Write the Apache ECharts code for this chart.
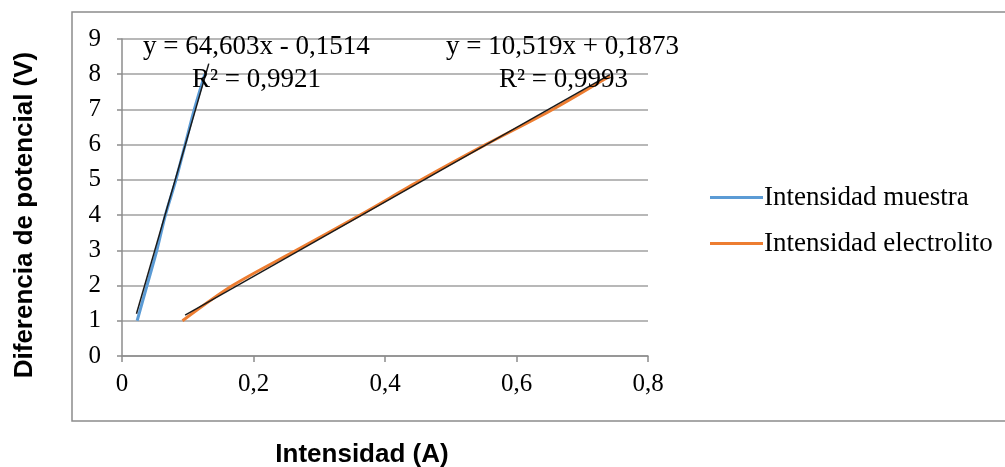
<!DOCTYPE html>
<html>
<head>
<meta charset="utf-8">
<script src="https://cdn.jsdelivr.net/npm/echarts@6/dist/echarts.min.js"></script>
<style>
html,body{margin:0;padding:0;background:#fff;}
#chart{width:1005px;height:467px;}
</style>
</head>
<body>
<div id="chart"></div>
<script>
// Data
const seriesNames = ['Intensidad muestra', 'Intensidad electrolito'];
const muestraX = [0.023, 0.038, 0.053, 0.066, 0.082, 0.096, 0.110, 0.126];
const muestraY = [1.0, 2.0, 3.0, 4.0, 5.0, 6.0, 7.0, 8.0];
const electrolitoX = [0.092, 0.168, 0.265, 0.362, 0.455, 0.553, 0.655, 0.742];
const electrolitoY = [1.0, 2.0, 3.0, 4.0, 5.0, 6.0, 7.0, 7.95];
// Trendline end points (as drawn)
const trendMuestra = [[0.022, 1.2], [0.132, 8.3]];
const trendElectrolito = [[0.096, 1.16], [0.742, 7.99]];
const eqMuestra = ['y = 64,603x - 0,1514', 'R² = 0,9921'];
const eqElectrolito = ['y = 10,519x + 0,1873', 'R² = 0,9993'];
const xTitle = 'Intensidad (A)';
const yTitle = 'Diferencia de potencial (V)';

const zip = (xs, ys) => xs.map((x, i) => [x, ys[i]]);
const serif = '"Liberation Serif", "DejaVu Serif", serif';
const sans = '"Liberation Sans", Arial, sans-serif';

const chart = echarts.init(document.getElementById('chart'), null, {renderer: 'canvas'});
chart.setOption({
  animation: false,
  backgroundColor: '#fff',
  grid: {left: 122, right: 357, top: 39, bottom: 111, containLabel: false},
  xAxis: {
    type: 'value', min: 0, max: 0.8, interval: 0.2,
    axisLine: {show: true, lineStyle: {color: '#8c8c8c', width: 1.5}},
    axisTick: {show: true, length: 6, lineStyle: {color: '#8c8c8c', width: 1.5}},
    splitLine: {show: false},
    axisLabel: {
      color: '#000', fontFamily: serif, fontSize: 25, margin: 16,
      formatter: v => String(Math.round(v * 10) / 10).replace('.', ',')
    }
  },
  yAxis: {
    type: 'value', min: 0, max: 9, interval: 1,
    axisLine: {show: true, lineStyle: {color: '#8c8c8c', width: 1.5}},
    axisTick: {show: true, length: 5, lineStyle: {color: '#8c8c8c', width: 1.5}},
    splitLine: {show: true, lineStyle: {color: '#a0a0a0', width: 1.5}},
    axisLabel: {color: '#000', fontFamily: serif, fontSize: 25, margin: 21}
  },
  legend: {
    orient: 'vertical', left: 705, top: 179, itemGap: 19,
    itemWidth: 53, itemHeight: 3, icon: 'rect',
    data: seriesNames,
    textStyle: {fontFamily: serif, fontSize: 27, lineHeight: 27, color: '#000', padding: [0, 0, 0, -4]}
  },
  series: [
    {
      name: seriesNames[0], type: 'line', data: zip(muestraX, muestraY),
      showSymbol: false, smooth: 0.3, lineStyle: {color: '#5B9BD5', width: 3},
      itemStyle: {color: '#5B9BD5'}, z: 2
    },
    {
      name: seriesNames[1], type: 'line', data: zip(electrolitoX, electrolitoY),
      showSymbol: false, smooth: 0.3, lineStyle: {color: '#ED7D31', width: 3},
      itemStyle: {color: '#ED7D31'}, z: 2
    },
    {
      name: 'trend1', type: 'line', data: trendMuestra, showSymbol: false,
      lineStyle: {color: '#1a1a1a', width: 1.5}, z: 3, silent: true
    },
    {
      name: 'trend2', type: 'line', data: trendElectrolito, showSymbol: false,
      lineStyle: {color: '#1a1a1a', width: 1.5}, z: 3, silent: true
    }
  ],
  graphic: [
    {type: 'rect', shape: {x: 72, y: 12, width: 960, height: 409},
     style: {fill: 'none', stroke: '#8c8c8c', lineWidth: 1.5}, z: -1, silent: true},
    {type: 'text', x: 143, y: 47, style: {text: eqMuestra[0], font: '27px ' + serif, fill: '#000', verticalAlign: 'middle'}, z: 10},
    {type: 'text', x: 192, y: 80, style: {text: eqMuestra[1], font: '27px ' + serif, fill: '#000', verticalAlign: 'middle'}, z: 10},
    {type: 'text', x: 446, y: 47, style: {text: eqElectrolito[0], font: '27px ' + serif, fill: '#000', verticalAlign: 'middle'}, z: 10},
    {type: 'text', x: 499, y: 80, style: {text: eqElectrolito[1], font: '27px ' + serif, fill: '#000', verticalAlign: 'middle'}, z: 10},
    {type: 'text', x: 362, y: 455, style: {text: xTitle, font: 'bold 26px ' + sans, fill: '#000', align: 'center', verticalAlign: 'middle'}},
    {type: 'text', x: 25, y: 215, rotation: Math.PI / 2,
     style: {text: yTitle, font: 'bold 26px ' + sans, fill: '#000', align: 'center', verticalAlign: 'middle'}}
  ]
});
</script>
</body>
</html>
